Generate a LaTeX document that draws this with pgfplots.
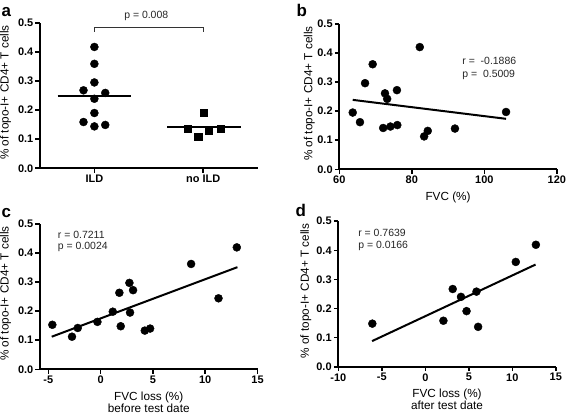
\documentclass[border=0pt]{standalone}
\usepackage{fontspec}
\setmainfont{Liberation Sans}
\usepackage{pgfplots}
\pgfplotsset{compat=1.18}

\pgfplotsset{
 panel/.style={
   scale only axis, width=217.5bp, height=145.5bp,
   axis x line*=bottom, axis y line*=left,
   axis line style={-, line width=2bp, black},
   tick align=outside, major tick length=4.5bp,
   tick style={line width=1.6bp, black},
   ymin=0, ymax=0.5, ytick={0,0.1,0.2,0.3,0.4,0.5},
   yticklabel style={/pgf/number format/.cd, fixed, fixed zerofill, precision=1},
   /pgf/number format/assume math mode=true,
   tick label style={font=\bfseries\fontsize{11}{12}\selectfont, inner sep=2bp},
   label style={font=\fontsize{11.8}{12}\selectfont},
   xlabel style={at={(axis description cs:0.5,0)}, anchor=north, yshift=-19bp, align=center},
   ylabel={\% of topo-I+ CD4+ T cells},
   clip=false,
   anchor=south west,
 },
 dot/.style={only marks, mark=*, mark size=4bp, mark options={fill=black, draw=black}},
 regline/.style={no marks, line width=2bp, black},
}
\tikzset{annot/.style={anchor=west, inner sep=0pt, text=black!85, font=\fontsize{10.5}{12}\selectfont}}

\begin{document}
\begin{tikzpicture}[x=1bp,y=1bp]
\path[use as bounding box] (0,0) rectangle (567,418);

% ---------- panel a ----------
\begin{axis}[panel, at={(40bp,249.7bp)},
  xmin=-0.5, xmax=1.5, xtick={0,1}, xticklabels={ILD,no ILD},
  ylabel style={at={(axis description cs:-0.158,0.52)}, anchor=center}]
\addplot[dot] coordinates {
 (0,0.417) (0,0.359) (0,0.295) (-0.1,0.268) (0.1,0.259)
 (0,0.239) (0,0.190) (-0.1,0.159) (0,0.144) (0.1,0.149)};
\addplot[only marks, mark=square*, mark size=3.6bp, mark options={fill=black, draw=black}] coordinates {
 (0.856,0.135) (0.954,0.109) (1.005,0.192) (1.05,0.128) (1.16,0.137)};
\addplot[regline] coordinates {(-0.338,0.248) (0.339,0.248)};
\addplot[regline] coordinates {(0.67,0.141) (1.344,0.141)};
\addplot[no marks, line width=0.8bp, black!80] coordinates {(0,0.470) (0,0.483) (1,0.483) (1,0.470)};
\node[anchor=center, inner sep=0pt, text=black!85, font=\fontsize{10.5}{12}\selectfont] at (axis cs:0.477,0.525) {p = 0.008};
\end{axis}

% ---------- panel b ----------
\begin{axis}[panel, at={(339.3bp,248.7bp)},
  xmin=60, xmax=120, xtick={60,80,100,120},
  xlabel={FVC (\%)},
  ylabel style={at={(axis description cs:-0.138,0.52)}, anchor=center}]
\addplot[dot] coordinates {
 (63.7,0.195) (65.7,0.162) (67.1,0.296) (69.2,0.361) (72.1,0.142)
 (72.6,0.261) (73.2,0.242) (74.1,0.147) (75.9,0.272) (76.0,0.152)
 (82.2,0.420) (83.4,0.113) (84.4,0.132) (91.9,0.140) (106.0,0.197)};
\addplot[regline] coordinates {(63.7,0.2386) (106,0.1735)};
\node[annot] at (axis cs:93.9,0.371) {r =\ \ -0.1886};
\node[annot] at (axis cs:93.9,0.326) {p =\ \ 0.5009};
\end{axis}

% ---------- panel c ----------
\begin{axis}[panel, at={(40bp,48.7bp)},
  xmin=-5.8, xmax=15, xtick={-5,0,5,10,15},
  xlabel={FVC loss (\%)\\before test date},
  ylabel style={at={(axis description cs:-0.158,0.52)}, anchor=center}]
\addplot[dot] coordinates {
 (-4.62,0.153) (-2.74,0.112) (-2.19,0.142) (-0.31,0.163) (1.16,0.198)
 (1.79,0.263) (1.92,0.148) (2.75,0.297) (2.81,0.195) (3.10,0.272)
 (4.22,0.133) (4.73,0.140) (8.65,0.362) (11.27,0.244) (13.02,0.419)};
\addplot[regline] coordinates {(-4.68,0.112) (13.08,0.351)};
\node[annot] at (axis cs:-4.1,0.462) {r = 0.7211};
\node[annot] at (axis cs:-4.1,0.420) {p = 0.0024};
\end{axis}

% ---------- panel d ----------
\begin{axis}[panel, at={(338.3bp,51.3bp)},
  xmin=-10, xmax=15, xtick={-10,-5,0,5,10,15},
  xlabel={FVC loss (\%)\\after test date},
  ylabel style={at={(axis description cs:-0.149,0.52)}, anchor=center}]
\addplot[dot] coordinates {
 (-6.09,0.148) (2.08,0.158) (3.15,0.267) (4.10,0.240) (4.74,0.191)
 (5.88,0.258) (6.07,0.137) (10.40,0.360) (12.71,0.419)};
\addplot[regline] coordinates {(-6.12,0.088) (12.67,0.351)};
\node[annot] at (axis cs:-7.72,0.459) {r = 0.7639};
\node[annot] at (axis cs:-7.72,0.416) {p = 0.0166};
\end{axis}

% panel letters
\node[anchor=base west, inner sep=0pt, font=\bfseries\fontsize{17}{17}\selectfont] at (1.5,401) {a};
\node[anchor=base west, inner sep=0pt, font=\bfseries\fontsize{17}{17}\selectfont] at (296.5,401) {b};
\node[anchor=base west, inner sep=0pt, font=\bfseries\fontsize{17}{17}\selectfont] at (1.5,201) {c};
\node[anchor=base west, inner sep=0pt, font=\bfseries\fontsize{17}{17}\selectfont] at (295.5,202) {d};
\end{tikzpicture}
\end{document}
